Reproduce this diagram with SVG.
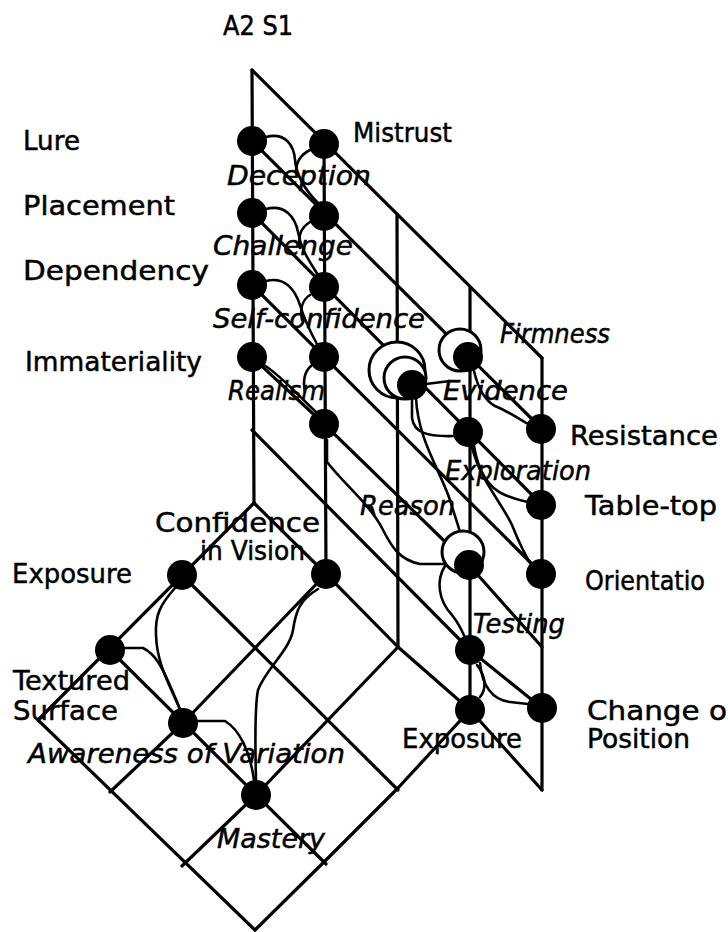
<svg xmlns="http://www.w3.org/2000/svg" width="728" height="932" viewBox="0 0 728 932">
<style>
.g{stroke:#000;stroke-width:3.2;fill:none;stroke-linecap:round;stroke-linejoin:round}
.c{stroke:#000;stroke-width:2.6;fill:none;stroke-linecap:round;stroke-linejoin:round}
.n{fill:#000}
.r{fill:#fff;stroke:#000;stroke-width:3}
text{font-family:"DejaVu Sans","Liberation Sans",sans-serif;font-size:27px;fill:#000;stroke:#000;stroke-width:0.5}
.i{font-style:italic}
</style>
<rect width="728" height="932" fill="#fff"/>
<g id="connectors">
  <g id="grid">
    <path class="g" d="M252,70 L254,503"/>
    <path class="g" d="M324,142 L326,574"/>
    <path class="g" d="M397,215 L398,647"/>
    <path class="g" d="M470,288 L470,710"/>
    <path class="g" d="M542,358 L542,790"/>
    <path class="g" d="M252,70 L542,358"/>
    <path class="g" d="M252,141 L542,429"/>
    <path class="g" d="M252,213 L542,505"/>
    <path class="g" d="M252,285 L542,574"/>
    <path class="g" d="M252,357 L324,424 L469,565 L542,647"/>
    <path class="g" d="M252,430 L470,650 L542,708"/>
    <path class="g" d="M254,503 L326,574 L398,647 L470,710 L542,790"/>
    <path class="g" d="M182,575 L398,790"/>
    <path class="g" d="M110,650 L326,864"/>
    <path class="g" d="M38,720 L255,930"/>
    <path class="g" d="M254,503 L38,720"/>
    <path class="g" d="M326,574 L183,723 L110,792"/>
    <path class="g" d="M398,647 L256,795 L182,866"/>
    <path class="g" d="M470,710 L398,788 L326,860 L255,930"/>
  </g>
  <g id="curves">
    <path class="c" d="M266,137 C285,132 294,145 295,160 C297,180 310,195 318,203"/>
    <path class="c" d="M266,209 C285,204 295,217 298,232 C301,250 310,262 318,275"/>
    <path class="c" d="M266,281 C285,276 295,290 300,305 C305,322 312,335 318,346"/>
    <path class="c" d="M264,365 C280,375 295,392 316,412"/>
    <path class="c" d="M310,150 C300,155 296,163 296,172"/>
    <path class="c" d="M310,222 C300,228 298,238 300,248"/>
    <path class="c" d="M310,295 C302,300 300,310 302,320"/>
    <path class="c" d="M311,366 C304,372 303,382 305,392"/>
    <path class="c" d="M412,400 L412,418 C414,432 425,437 455,436"/>
    <path class="c" d="M416,398 C418,440 440,470 450,500 C456,520 460,530 462,540"/>
    <path class="c" d="M426,384 L450,381"/>
    <path class="c" d="M474,371 C478,388 484,400 495,406 C510,412 520,420 530,425"/>
    <path class="c" d="M474,446 C478,470 488,488 505,495 C515,499 522,501 528,502"/>
    <path class="c" d="M472,447 C480,480 500,500 512,525 C520,545 528,560 532,566"/>
    <path class="c" d="M327,440 L327,462 C345,485 370,505 382,528 C392,548 400,560 420,564 L455,564"/>
    <path class="c" d="M445,566 C436,580 438,600 452,615 C460,625 464,635 466,640"/>
    <path class="c" d="M480,663 C482,685 492,700 510,702 L528,704"/>
    <path class="c" d="M477,665 C487,678 486,690 480,697"/>
    <path class="c" d="M175,588 C160,605 155,615 156,635 C157,665 170,685 180,710"/>
    <path class="c" d="M124,648 L143,648 C158,655 165,675 172,690 C176,700 179,705 180,710"/>
    <path class="c" d="M318,589 C300,600 296,610 293,630 C290,650 265,670 258,690 C255,705 255,740 256,780"/>
    <path class="c" d="M198,721 L225,721 C240,730 250,752 254,780"/>
  </g>
</g>
<text id="title" x="223" y="35" textLength="70" lengthAdjust="spacingAndGlyphs">A2 S1</text>
<g id="n-lure"><circle class="n" cx="252" cy="141" r="15"/><text x="23" y="150" textLength="57" lengthAdjust="spacingAndGlyphs">Lure</text></g>
<g id="n-mistrust"><circle class="n" cx="324" cy="144" r="15"/><text x="353" y="142" textLength="99" lengthAdjust="spacingAndGlyphs">Mistrust</text></g>
<g id="n-placement"><circle class="n" cx="252" cy="213" r="15"/><text x="23" y="215" textLength="152" lengthAdjust="spacingAndGlyphs">Placement</text></g>
<g id="n-c1-2"><circle class="n" cx="324" cy="216" r="15"/></g>
<g id="n-dependency"><circle class="n" cx="252" cy="285" r="15"/><text x="23" y="280" textLength="186" lengthAdjust="spacingAndGlyphs">Dependency</text></g>
<g id="n-c1-3"><circle class="n" cx="324" cy="287" r="15"/></g>
<g id="n-immateriality"><circle class="n" cx="252" cy="357" r="15"/><text x="25" y="371" textLength="177" lengthAdjust="spacingAndGlyphs">Immateriality</text></g>
<g id="n-c1-4"><circle class="n" cx="324" cy="357" r="15"/></g>
<g id="n-c1-5"><circle class="n" cx="324" cy="424" r="15"/></g>
<g id="n-bigring"><circle class="r" cx="397" cy="370" r="28"/><circle class="r" cx="405" cy="378" r="21"/><circle class="n" cx="412" cy="385" r="15"/></g>
<g id="n-firmness"><circle class="r" cx="460" cy="350" r="21"/><circle class="n" cx="468" cy="357" r="15"/></g>
<g id="n-c3-2"><circle class="n" cx="468" cy="432" r="15"/></g>
<g id="n-resistance"><circle class="n" cx="541" cy="429" r="15"/><text x="570" y="445" textLength="148" lengthAdjust="spacingAndGlyphs">Resistance</text></g>
<g id="n-tabletop"><circle class="n" cx="541" cy="505" r="15"/><text x="585" y="515" textLength="132" lengthAdjust="spacingAndGlyphs">Table-top</text></g>
<g id="n-orientation"><circle class="n" cx="541" cy="574" r="15"/><text x="585" y="590" textLength="120" lengthAdjust="spacingAndGlyphs">Orientatio</text></g>
<g id="n-smallring"><circle class="r" cx="463" cy="552" r="21"/><circle class="n" cx="469" cy="565" r="15"/></g>
<g id="n-testing"><circle class="n" cx="470" cy="650" r="15"/></g>
<g id="n-exposure-r"><circle class="n" cx="470" cy="710" r="15"/><text x="402" y="748" textLength="120" lengthAdjust="spacingAndGlyphs">Exposure</text></g>
<g id="n-change"><circle class="n" cx="542" cy="708" r="15"/><text x="587" y="720" textLength="140" lengthAdjust="spacingAndGlyphs">Change o</text><text x="587" y="748" textLength="103" lengthAdjust="spacingAndGlyphs">Position</text></g>
<g id="n-confidence"><circle class="n" cx="326" cy="574" r="15"/><text x="155" y="532" textLength="165" lengthAdjust="spacingAndGlyphs">Confidence</text><text x="200" y="560" textLength="105" lengthAdjust="spacingAndGlyphs">in Vision</text></g>
<g id="n-exposure-l"><circle class="n" cx="182" cy="575" r="15"/><text x="12" y="583" textLength="120" lengthAdjust="spacingAndGlyphs">Exposure</text></g>
<g id="n-textured"><circle class="n" cx="110" cy="650" r="15"/><text x="13" y="690" textLength="117" lengthAdjust="spacingAndGlyphs">Textured</text><text x="13" y="720" textLength="105" lengthAdjust="spacingAndGlyphs">Surface</text></g>
<g id="n-awareness"><circle class="n" cx="183" cy="723" r="15"/></g>
<g id="n-mastery"><circle class="n" cx="256" cy="795" r="15"/></g>
<g id="attribute-labels">
  <text class="i" x="227" y="185" textLength="144" lengthAdjust="spacingAndGlyphs">Deception</text>
  <text class="i" x="213" y="255" textLength="140" lengthAdjust="spacingAndGlyphs">Challenge</text>
  <text class="i" x="213" y="328" textLength="212" lengthAdjust="spacingAndGlyphs">Self-confidence</text>
  <text class="i" x="228" y="400" textLength="97" lengthAdjust="spacingAndGlyphs">Realism</text>
  <text class="i" x="500" y="343" textLength="110" lengthAdjust="spacingAndGlyphs">Firmness</text>
  <text class="i" x="443" y="400" textLength="125" lengthAdjust="spacingAndGlyphs">Evidence</text>
  <text class="i" x="445" y="480" textLength="146" lengthAdjust="spacingAndGlyphs">Exploration</text>
  <text class="i" x="360" y="515" textLength="95" lengthAdjust="spacingAndGlyphs">Reason</text>
  <text class="i" x="473" y="633" textLength="92" lengthAdjust="spacingAndGlyphs">Testing</text>
  <text class="i" x="28" y="763" textLength="317" lengthAdjust="spacingAndGlyphs">Awareness of Variation</text>
  <text class="i" x="217" y="848" textLength="108" lengthAdjust="spacingAndGlyphs">Mastery</text>
</g>
</svg>
